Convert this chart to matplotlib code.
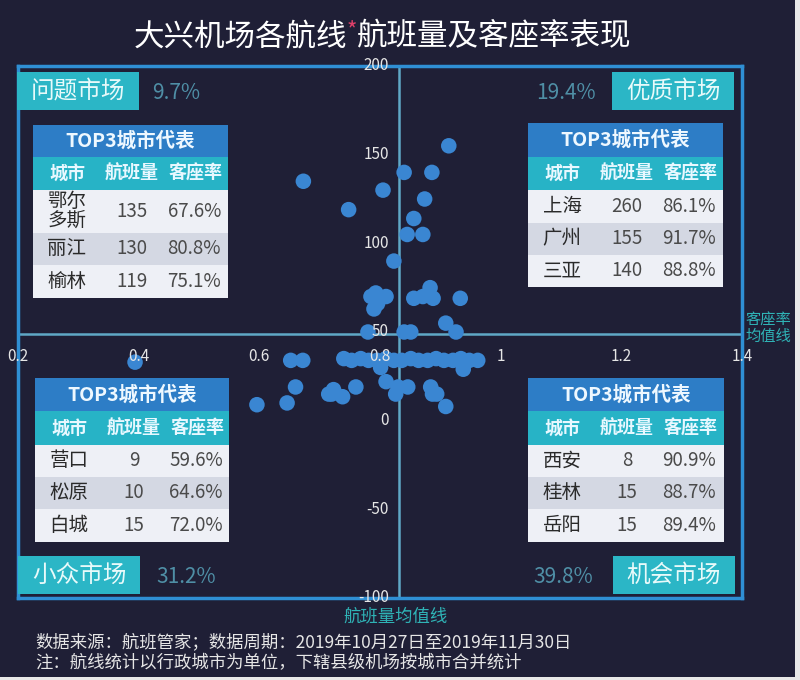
import matplotlib
matplotlib.use("Agg")
import matplotlib.pyplot as plt
from matplotlib.patches import Rectangle

plt.rcParams['font.family'] = ['Noto Sans CJK SC', 'DejaVu Sans']

# scatter data: x = load factor, y = flights per route
load_factor = [0.914, 0.886, 0.840, 0.673, 0.805, 0.874, 0.748, 0.856, 0.845, 0.871,
               0.823, 0.785, 0.810, 0.796, 0.790, 0.793, 0.856, 0.871, 0.883, 0.888,
               0.933, 0.909, 0.926, 0.851, 0.840, 0.780,
               0.652, 0.672, 0.740, 0.753, 0.768, 0.781, 0.795, 0.810, 0.823, 0.836,
               0.851, 0.864, 0.879, 0.893, 0.906, 0.921, 0.934, 0.948, 0.962,
               0.394, 0.801, 0.938, 0.810, 0.660, 0.723, 0.715, 0.720, 0.738, 0.760,
               0.830, 0.846, 0.826, 0.884, 0.887, 0.894, 0.909, 0.596, 0.646]
flights = [155, 140, 140, 135, 130, 125, 119, 114, 105, 105,
           90, 70, 70, 66, 63, 72, 69, 70, 75, 69,
           69, 55, 50, 50, 50, 50,
           34, 34, 35, 34, 35, 34, 34, 35, 34, 34,
           35, 34, 34, 35, 34, 34, 35, 34, 34,
           33, 30, 29, 22, 19, 17.5, 15, 15, 13.5, 19,
           19, 19, 15, 19, 15, 15, 8, 9, 10]

rate_mean = 0.831
flights_mean = 49

x_ticks = [0.2, 0.4, 0.6, 0.8, 1.0, 1.2, 1.4]
x_tick_labels = ['0.2', '0.4', '0.6', '0.8', '1', '1.2', '1.4']
y_ticks = [200, 150, 100, 50, 0, -50, -100]

quadrant_names = ['问题市场', '优质市场', '小众市场', '机会市场']
quadrant_shares = ['9.7%', '19.4%', '31.2%', '39.8%']

tl_cities = ['鄂尔\n多斯', '丽江', '榆林']
tl_flights = [135, 130, 119]
tl_rates = ['67.6%', '80.8%', '75.1%']
tr_cities = ['上海', '广州', '三亚']
tr_flights = [260, 155, 140]
tr_rates = ['86.1%', '91.7%', '88.8%']
bl_cities = ['营口', '松原', '白城']
bl_flights = [9, 10, 15]
bl_rates = ['59.6%', '64.6%', '72.0%']
br_cities = ['西安', '桂林', '岳阳']
br_flights = [8, 15, 15]
br_rates = ['90.9%', '88.7%', '89.4%']

BG = '#1f1f36'
W, H = 800, 680

fig = plt.figure(figsize=(8, 6.8), dpi=100, facecolor=BG)


def fx(px):
    return px / W


def fy(py):
    return 1 - py / H


def box(x0, y0, w, h, color, z=3):
    fig.patches.append(Rectangle((fx(x0), fy(y0 + h)), w / W, h / H, transform=fig.transFigure,
                                 facecolor=color, edgecolor='none', zorder=z))


ax = fig.add_axes([fx(18), fy(598), 724 / W, 532 / H])
ax.set_facecolor(BG)
ax.set_xlim(0.2, 1.4)
ax.set_ylim(-100, 200)
ax.set_xticks([])
ax.set_yticks([])
for s in ax.spines.values():
    s.set_color('#2f8fd4')
    s.set_linewidth(2.5)

ax.axvline(rate_mean, color='#5fa8c6', lw=1.8, zorder=1)
ax.axhline(flights_mean, color='#5fa8c6', lw=1.8, zorder=1)
ax.scatter(load_factor, flights, s=125, color='#3a86d2', edgecolors='none', zorder=2, clip_on=False)

for v, lab in zip(x_ticks, x_tick_labels):
    ax.text(v, 36, lab, color='#e6e6e6', fontsize=11, ha='center', va='center', zorder=5)
for v in y_ticks:
    ax.text(0.815, v, str(v), color='#e6e6e6', fontsize=11, ha='right', va='center', zorder=5)

ax.text(1.405, flights_mean + 3, '客座率\n均值线', color='#2fb3b6', fontsize=11,
        ha='left', va='center', linespacing=1.0)
ax.text(rate_mean - 0.006, -105, '航班量均值线', color='#2fb3b6', fontsize=12.5,
        ha='center', va='top')

# title with red asterisk
fig.text(fx(347), fy(37), '大兴机场各航线', color='white', fontsize=22, ha='right', va='center')
fig.text(fx(352), fy(31), '*', color='#e0406a', fontsize=16, ha='center', va='center')
fig.text(fx(357), fy(37), '航班量及客座率表现', color='white', fontsize=22, ha='left', va='center')

# quadrant labels
TEAL = '#2bb6c6'
SHARE = '#4f8fa6'
label_boxes = [(17, 72), (612, 72), (18, 556), (613, 556)]
share_pos = [(152, 'left'), (596, 'right'), (156, 'left'), (593, 'right')]
for (bx, by), name, share, (sx, ha) in zip(label_boxes, quadrant_names, quadrant_shares, share_pos):
    box(bx, by, 122, 38, TEAL)
    fig.text(fx(bx + 61), fy(by + 19), name, color='#e8fafa', fontsize=17,
             ha='center', va='center', zorder=4)
    fig.text(fx(sx), fy(by + 21), share, color=SHARE, fontsize=15, ha=ha, va='center')


def draw_table(x0, y0, w, heights, cities, nums, rates):
    colors = ['#2d7dc6', '#27b3c6', '#eef0f6', '#d4d8e3', '#eef0f6']
    tops = [y0]
    for h in heights:
        tops.append(tops[-1] + h)
    for i, h in enumerate(heights):
        box(x0, tops[i], w, h, colors[i])
    fig.text(fx(x0 + w / 2), fy(tops[0] + heights[0] / 2), 'TOP3城市代表', color='#eef8ff',
             fontsize=14, fontweight='bold', ha='center', va='center', zorder=4)
    sub_y = fy(tops[1] + heights[1] / 2)
    fig.text(fx(x0 + 34), sub_y, '城市', color='#e8f8ff', fontsize=13, fontweight='bold',
             ha='center', va='center', zorder=4)
    fig.text(fx(x0 + 99), sub_y, '航班量', color='#e8f8ff', fontsize=13, fontweight='bold',
             ha='center', va='center', zorder=4)
    fig.text(fx(x0 + 163), sub_y, '客座率', color='#e8f8ff', fontsize=13, fontweight='bold',
             ha='center', va='center', zorder=4)
    for i in range(3):
        ry = fy(tops[i + 2] + heights[i + 2] / 2)
        fig.text(fx(x0 + 34), ry, cities[i], color='#2a2a2a', fontsize=14, ha='center',
                 va='center', linespacing=0.95, zorder=4)
        fig.text(fx(x0 + 99), ry, str(nums[i]), color='#4a4a4a', fontsize=13.5, ha='center',
                 va='center', zorder=4)
        fig.text(fx(x0 + 188), ry, rates[i], color='#4a4a4a', fontsize=13.5, ha='right',
                 va='center', zorder=4)


draw_table(33, 125, 195, [32, 33, 43, 32, 33], tl_cities, tl_flights, tl_rates)
draw_table(528, 123, 195, [34, 33, 33, 32, 32], tr_cities, tr_flights, tr_rates)
draw_table(35, 378, 194, [33, 34, 32, 32, 33], bl_cities, bl_flights, bl_rates)
draw_table(528, 378, 196, [33, 34, 32, 32, 33], br_cities, br_flights, br_rates)

# footer
fig.text(fx(35), fy(642), '数据来源：航班管家；数据周期：2019年10月27日至2019年11月30日',
         color='#e6e6e6', fontsize=12.5, ha='left', va='center')
fig.text(fx(35), fy(663), '注：航线统计以行政城市为单位，下辖县级机场按城市合并统计',
         color='#e6e6e6', fontsize=12.5, ha='left', va='center')

# thin light edge at right and bottom of the picture
box(795, 0, 5, 680, '#e8e8e8', z=6)
box(0, 677, 800, 3, '#e8e8e8', z=6)

fig.savefig('out.png', dpi=100, facecolor=BG)
